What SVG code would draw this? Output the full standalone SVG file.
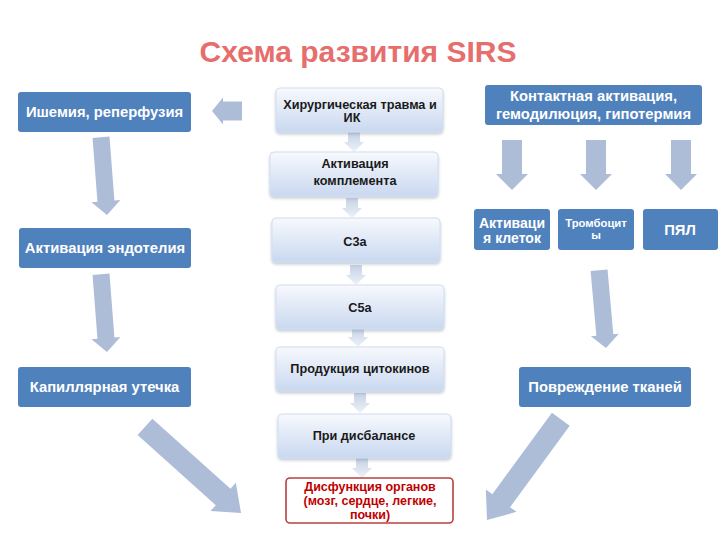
<svg xmlns="http://www.w3.org/2000/svg" width="720" height="540" viewBox="0 0 720 540">
<defs>
<linearGradient id="lg" x1="0" y1="0" x2="0" y2="1">
<stop offset="0" stop-color="#f7f9fd"/>
<stop offset="1" stop-color="#c9d8f0"/>
</linearGradient>
<linearGradient id="ag" x1="0" y1="0" x2="1" y2="0">
<stop offset="0" stop-color="#c5d1e4"/>
<stop offset="1" stop-color="#eef2f8"/>
</linearGradient>
<filter id="sh" x="-10%" y="-10%" width="120%" height="140%">
<feDropShadow dx="0" dy="2" stdDeviation="1.5" flood-color="#7f8fa8" flood-opacity="0.45"/>
</filter>
<polygon id="small" points="0,0 -10,-10 -10,-6 -20,-6 -20,6 -10,6 -10,10"/>
</defs>
<style>
text{font-family:"Liberation Sans","DejaVu Sans",sans-serif;font-weight:bold;text-anchor:middle}
.dark{fill:#4f81bd}
.wt{fill:#ffffff;font-size:14.8px}
.lt{fill:url(#lg);stroke:#d3def0;stroke-width:1;filter:url(#sh)}
.ct{fill:#1a1a1a;font-size:12.7px}
.rt{fill:#c00000;font-size:12.5px}
.arr{fill:#adbdd7}
.sa{fill:url(#ag)}
</style>
<rect width="720" height="540" fill="#ffffff"/>
<text x="358" y="62" style="font-size:30px;fill:#e66e6c">Схема развития SIRS</text>

<g id="connectors">
<polygon class="arr" points="0,0 -11,-13.5 -11,-9.5 -30,-9.5 -30,9.5 -11,9.5 -11,13.5" transform="translate(212,111) rotate(180)"/>
<polygon class="arr" points="0,0 -14,-14.5 -14,-8.5 -78,-8.5 -78,8.5 -14,8.5 -14,14.5" transform="translate(107,215) rotate(85.6)"/>
<polygon class="arr" points="0,0 -14,-14.5 -14,-8.5 -78,-8.5 -78,8.5 -14,8.5 -14,14.5" transform="translate(107,352) rotate(85.6)"/>
<polygon class="arr" points="0,0 -24,-19 -24,-11 -129,-11 -129,11 -24,11 -24,19" transform="translate(241,513) rotate(41.9)"/>
<polygon class="arr" points="0,0 -16,-16 -16,-10 -50,-10 -50,10 -16,10 -16,16" transform="translate(512,190) rotate(90)"/>
<polygon class="arr" points="0,0 -16,-16 -16,-10 -50,-10 -50,10 -16,10 -16,16" transform="translate(596,190) rotate(90)"/>
<polygon class="arr" points="0,0 -16,-16 -16,-10 -50,-10 -50,10 -16,10 -16,16" transform="translate(681,190) rotate(90)"/>
<polygon class="arr" points="0,0 -13,-14 -13,-8.5 -78,-8.5 -78,8.5 -13,8.5 -13,14" transform="translate(606,348) rotate(84.9)"/>
<polygon class="arr" points="0,0 -24,-19 -24,-11 -125,-11 -125,11 -24,11 -24,19" transform="translate(487,520) rotate(126.2)"/>
<use href="#small" class="sa" transform="translate(354,152) rotate(90)"/>
<use href="#small" class="sa" transform="translate(352,218) rotate(90)"/>
<use href="#small" class="sa" transform="translate(356,285) rotate(90)"/>
<use href="#small" class="sa" transform="translate(358,347) rotate(90)"/>
<use href="#small" class="sa" transform="translate(360,413) rotate(90)"/>
<use href="#small" class="sa" transform="translate(362,478) rotate(90)"/>
</g>

<g id="ishemia"><rect class="dark" x="18" y="92" width="173" height="40" rx="3"/><text class="wt" x="104.5" y="117">Ишемия, реперфузия</text></g>
<g id="endothel"><rect class="dark" x="19" y="228" width="172" height="40" rx="3"/><text class="wt" x="105" y="253">Активация эндотелия</text></g>
<g id="capillary"><rect class="dark" x="18" y="367" width="173" height="40" rx="3"/><text class="wt" x="104.5" y="392">Капиллярная утечка</text></g>

<g id="trauma"><rect class="lt" x="276" y="88" width="167" height="44" rx="4"/><text class="ct" x="360" y="109">Хирургическая травма и</text><text class="ct" x="352" y="122">ИК</text></g>
<g id="complement"><rect class="lt" x="270" y="152" width="168" height="44" rx="4"/><text class="ct" x="355" y="168">Активация</text><text class="ct" x="355" y="185">комплемента</text></g>
<g id="c3a"><rect class="lt" x="272" y="218" width="168" height="44" rx="4"/><text class="ct" x="355" y="246">С3а</text></g>
<g id="c5a"><rect class="lt" x="276" y="285" width="168" height="44" rx="4"/><text class="ct" x="360" y="312">С5а</text></g>
<g id="cytokines"><rect class="lt" x="276" y="347" width="168" height="44" rx="4"/><text class="ct" x="360" y="373">Продукция цитокинов</text></g>
<g id="imbalance"><rect class="lt" x="278" y="414" width="173" height="44" rx="4"/><text class="ct" x="364" y="440">При дисбалансе</text></g>
<g id="dysfunction"><rect x="286" y="478" width="167" height="45" rx="4" fill="#ffffff" stroke="#b8403e" stroke-width="1.6"/><text class="rt" x="370" y="491">Дисфункция органов</text><text class="rt" x="370" y="505">(мозг, сердце, легкие,</text><text class="rt" x="370" y="519">почки)</text></g>

<g id="contact"><rect class="dark" x="485" y="85" width="217" height="40" rx="3"/><text class="wt" x="593.5" y="101">Контактная активация,</text><text class="wt" x="593.5" y="119">гемодилюция, гипотермия</text></g>
<g id="cells"><rect class="dark" x="474" y="209" width="76" height="41" rx="3"/><text class="wt" x="512" y="228" style="font-size:14px">Активаци</text><text class="wt" x="512" y="243" style="font-size:14px">я клеток</text></g>
<g id="platelets"><rect class="dark" x="558" y="209" width="76" height="41" rx="3"/><text class="wt" x="596" y="227" style="font-size:11.3px">Тромбоцит</text><text class="wt" x="596" y="239" style="font-size:11.3px">ы</text></g>
<g id="pmn"><rect class="dark" x="643" y="209" width="75" height="41" rx="3"/><text class="wt" x="680" y="235">ПЯЛ</text></g>
<g id="tissue"><rect class="dark" x="519" y="367" width="172" height="40" rx="3"/><text class="wt" x="605" y="392">Повреждение тканей</text></g>
</svg>
